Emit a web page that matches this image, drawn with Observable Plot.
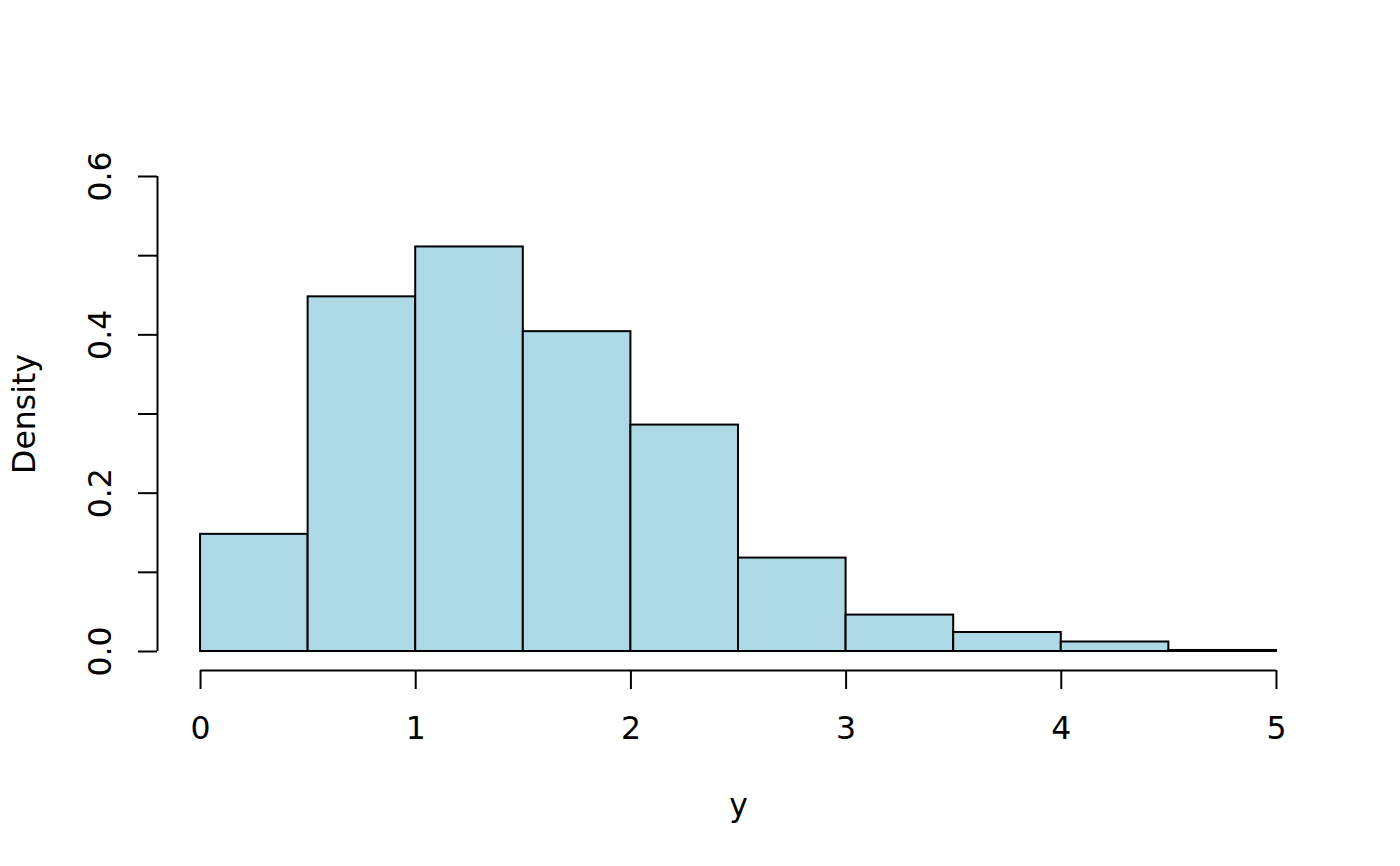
<!DOCTYPE html>
<html>
<head>
<meta charset="utf-8">
<script src="https://cdn.jsdelivr.net/npm/d3@7"></script>
<script src="https://cdn.jsdelivr.net/npm/@observablehq/plot@0.6"></script>
<style>
  html, body { margin: 0; padding: 0; background: #fff; }
  #chart svg { display: block; }
</style>
</head>
<body>
<div id="chart"></div>
<script>
const binStart = [0, 0.5, 1, 1.5, 2, 2.5, 3, 3.5, 4, 4.5];
const binEnd   = [0.5, 1, 1.5, 2, 2.5, 3, 3.5, 4, 4.5, 5];
const density  = [0.148, 0.448, 0.511, 0.404, 0.286, 0.118, 0.046, 0.024, 0.012, 0.0013];
const xTicks = [0, 1, 2, 3, 4, 5];
const yTicks = [0, 0.1, 0.2, 0.3, 0.4, 0.5, 0.6];
const yLabels = [0, 0.2, 0.4, 0.6];
const xTitle = "y";
const yTitle = "Density";

const bins = binStart.map((s, i) => ({x1: s, x2: binEnd[i], y: density[i]}));
// R-style 4% axis padding
const xPad = (xTicks[xTicks.length - 1] - xTicks[0]) * 0.04;
const yPad = (yTicks[yTicks.length - 1] - yTicks[0]) * 0.04;
const xDom = [xTicks[0] - xPad, xTicks[xTicks.length - 1] + xPad];
const yDom = [yTicks[0] - yPad, yTicks[yTicks.length - 1] + yPad];
const font = "DejaVu Sans, sans-serif";
const fs = 31.5;

const chart = Plot.plot({
  width: 1400,
  height: 866,
  marginLeft: 157,
  marginRight: 81,
  marginTop: 157,
  marginBottom: 196,
  style: {fontFamily: font, background: "#fff", color: "#000"},
  x: {domain: xDom},
  y: {domain: yDom},
  marks: [
    Plot.rect(bins, {x1: "x1", x2: "x2", y1: 0, y2: "y", fill: "#ADD8E6", stroke: "#000", strokeWidth: 2}),
    // axis lines
    Plot.ruleY([yDom[0]], {x1: xTicks[0], x2: xTicks[xTicks.length - 1], stroke: "#000", strokeWidth: 2}),
    Plot.ruleX([xDom[0]], {y1: yTicks[0], y2: yTicks[yTicks.length - 1], stroke: "#000", strokeWidth: 2}),
    // ticks
    Plot.axisX({ticks: xTicks, tickSize: 19, tickFormat: () => "", label: null, strokeWidth: 2}),
    Plot.axisY({ticks: yTicks, tickSize: 19, tickFormat: () => "", label: null, strokeWidth: 2}),
    // tick labels
    Plot.text(xTicks, {x: d => d, frameAnchor: "bottom", dy: 58, text: d => String(d), fontSize: fs, lineAnchor: "middle", fill: "#000"}),
    Plot.text(yLabels, {y: d => d, frameAnchor: "left", dx: -57, text: d => d.toFixed(1), fontSize: fs, rotate: -90, lineAnchor: "middle", textAnchor: "middle", fill: "#000"}),
    // axis titles
    Plot.text([xTitle], {frameAnchor: "bottom", dy: 135, text: d => d, fontSize: fs, lineAnchor: "middle", fill: "#000"}),
    Plot.text([yTitle], {frameAnchor: "left", dx: -133, text: d => d, fontSize: fs, rotate: -90, lineAnchor: "middle", textAnchor: "middle", fill: "#000"})
  ]
});
document.getElementById("chart").appendChild(chart);
</script>
</body>
</html>
